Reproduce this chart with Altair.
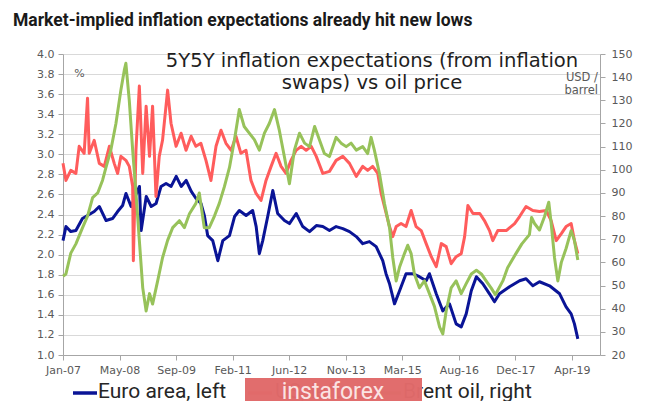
import altair as alt
import pandas as pd

# ---------------- data ----------------
euro_dates = [
    "2007-01-01", "2007-01-27", "2007-03-11", "2007-04-25", "2007-06-22", "2007-08-06",
    "2007-10-04", "2007-11-18", "2008-01-17", "2008-03-14", "2008-04-28", "2008-06-11",
    "2008-07-11", "2008-08-25", "2008-11-07", "2008-11-22", "2009-01-06", "2009-02-19",
    "2009-04-03", "2009-05-17", "2009-06-30", "2009-08-14", "2009-09-28", "2009-11-11",
    "2009-12-25", "2010-02-08", "2010-03-22", "2010-05-05", "2010-06-04", "2010-07-03",
    "2010-08-17", "2010-10-01", "2010-11-14", "2011-01-12", "2011-02-26", "2011-04-09",
    "2011-06-08", "2011-08-05", "2011-09-05", "2011-10-03", "2011-11-02", "2011-12-16",
    "2012-01-30", "2012-03-13", "2012-05-12", "2012-06-25", "2012-08-24", "2012-10-21",
    "2012-12-20", "2013-02-18", "2013-04-16", "2013-06-14", "2013-08-12", "2013-10-10",
    "2013-12-08", "2014-02-06", "2014-04-04", "2014-06-02", "2014-08-01", "2014-09-28",
    "2014-10-27", "2014-11-27", "2015-01-10", "2015-02-24", "2015-04-22", "2015-06-20",
    "2015-08-18", "2015-10-17", "2015-11-15", "2016-01-14", "2016-03-12", "2016-05-10",
    "2016-07-08", "2016-08-22", "2016-10-05", "2016-11-19", "2017-01-03", "2017-03-01",
    "2017-04-29", "2017-06-12", "2017-07-26", "2017-10-23", "2018-01-20", "2018-03-18",
    "2018-05-17", "2018-07-15", "2018-10-12", "2019-01-09", "2019-03-07", "2019-04-21",
    "2019-05-20", "2019-06-19",
]
euro_values = [
    2.14, 2.28, 2.23, 2.24, 2.36, 2.39,
    2.43, 2.48, 2.34, 2.36, 2.43, 2.49,
    2.61, 2.48, 2.68, 2.24, 2.58, 2.48,
    2.51, 2.68, 2.71, 2.68, 2.78, 2.68,
    2.74, 2.63, 2.56, 2.51, 2.39, 2.19,
    2.14, 1.94, 2.14, 2.19, 2.38, 2.44,
    2.39, 2.44, 2.28, 2.01, 2.14, 2.38,
    2.64, 2.41, 2.34, 2.31, 2.41, 2.28,
    2.23, 2.29, 2.28, 2.24, 2.28, 2.26,
    2.23, 2.18, 2.11, 2.13, 2.08, 1.94,
    1.81, 1.71, 1.51, 1.64, 1.81, 1.81,
    1.78, 1.74, 1.81, 1.61, 1.44, 1.51,
    1.31, 1.28, 1.41, 1.64, 1.78, 1.71,
    1.61, 1.53, 1.61, 1.68, 1.74, 1.76,
    1.69, 1.73, 1.69, 1.61, 1.48, 1.41,
    1.31, 1.16,
]

us_dates = [
    "2007-01-01", "2007-01-27", "2007-03-11", "2007-04-25", "2007-05-24", "2007-07-07",
    "2007-08-06", "2007-08-21", "2007-10-04", "2007-11-18", "2008-01-01", "2008-02-15",
    "2008-03-29", "2008-04-28", "2008-05-27", "2008-07-10", "2008-08-09", "2008-09-08",
    "2008-09-14", "2008-10-07", "2008-11-06", "2008-12-06", "2009-01-05", "2009-02-04",
    "2009-03-03", "2009-04-02", "2009-05-01", "2009-05-30", "2009-07-14", "2009-08-13",
    "2009-09-27", "2009-11-10", "2009-12-24", "2010-02-07", "2010-03-21", "2010-05-04",
    "2010-06-18", "2010-08-01", "2010-09-15", "2010-10-29", "2010-12-12", "2011-01-27",
    "2011-03-10", "2011-04-23", "2011-06-07", "2011-07-21", "2011-09-04", "2011-10-18",
    "2011-12-01", "2012-01-15", "2012-02-28", "2012-04-12", "2012-05-26", "2012-07-09",
    "2012-08-23", "2012-10-07", "2012-11-20", "2013-01-04", "2013-02-17", "2013-04-16",
    "2013-06-14", "2013-08-12", "2013-10-10", "2013-12-08", "2014-02-06", "2014-04-04",
    "2014-05-18", "2014-07-01", "2014-08-15", "2014-09-14", "2014-10-13", "2014-11-27",
    "2014-12-26", "2015-01-25", "2015-03-09", "2015-04-22", "2015-06-06", "2015-07-20",
    "2015-09-03", "2015-10-17", "2015-12-01", "2016-01-14", "2016-02-28", "2016-04-11",
    "2016-05-25", "2016-07-08", "2016-08-22", "2016-09-21", "2016-10-20", "2016-12-04",
    "2017-02-02", "2017-03-15", "2017-04-29", "2017-05-28", "2017-07-11", "2017-09-24",
    "2017-12-07", "2018-01-20", "2018-03-18", "2018-05-17", "2018-07-15", "2018-09-13",
    "2018-10-26", "2018-12-10", "2019-01-24", "2019-03-07", "2019-04-21", "2019-05-20",
    "2019-06-19",
]
us_values = [
    2.91, 2.74, 2.84, 2.81, 3.08, 3.01,
    3.56, 3.01, 3.14, 2.91, 2.88, 3.08,
    2.91, 2.81, 2.98, 2.94, 2.88, 2.68,
    1.94, 3.04, 3.68, 2.81, 3.48, 2.98,
    3.48, 2.58, 2.98, 3.14, 3.64, 3.31,
    3.08, 3.21, 3.04, 3.18, 3.08, 3.11,
    2.94, 2.74, 3.08, 3.24, 3.11, 3.04,
    3.18, 3.01, 3.04, 2.74, 2.61, 2.54,
    2.74, 2.88, 3.01, 2.88, 2.81, 2.94,
    3.04, 3.08, 3.04, 3.08, 2.98, 2.81,
    2.83, 2.94, 2.98, 2.91, 2.78, 2.88,
    2.84, 2.88, 2.81, 2.61, 2.48, 2.28,
    2.18, 2.28, 2.31, 2.28, 2.44, 2.28,
    2.24, 2.11, 1.98, 1.88, 2.11, 2.08,
    1.91, 1.98, 2.01, 2.18, 2.49, 2.41,
    2.41, 2.34, 2.24, 2.14, 2.24, 2.24,
    2.31, 2.38, 2.48, 2.44, 2.43, 2.44,
    2.34, 2.14, 2.21, 2.28, 2.31, 2.14,
    2.01,
]

brent_dates = [
    "2007-01-01", "2007-01-27", "2007-03-11", "2007-04-25", "2007-06-23", "2007-08-06",
    "2007-09-20", "2007-11-04", "2007-12-17", "2008-01-16", "2008-02-28", "2008-04-13",
    "2008-05-27", "2008-06-26", "2008-07-10", "2008-08-09", "2008-09-08", "2008-10-07",
    "2008-11-06", "2008-12-06", "2009-01-05", "2009-02-04", "2009-03-03", "2009-04-17",
    "2009-05-30", "2009-07-14", "2009-08-28", "2009-10-26", "2009-12-09", "2010-01-23",
    "2010-03-21", "2010-04-20", "2010-06-03", "2010-07-17", "2010-09-01", "2010-10-14",
    "2010-11-28", "2011-01-12", "2011-02-25", "2011-04-09", "2011-05-22", "2011-07-06",
    "2011-08-20", "2011-10-03", "2011-11-17", "2011-12-30", "2012-02-14", "2012-03-28",
    "2012-05-11", "2012-06-25", "2012-08-08", "2012-09-22", "2012-11-06", "2012-12-20",
    "2013-02-03", "2013-03-17", "2013-04-30", "2013-06-14", "2013-08-12", "2013-09-25",
    "2013-11-09", "2013-12-22", "2014-02-06", "2014-04-04", "2014-05-18", "2014-06-17",
    "2014-07-16", "2014-08-30", "2014-10-13", "2014-11-27", "2014-12-26", "2015-01-25",
    "2015-02-24", "2015-04-08", "2015-05-07", "2015-06-06", "2015-07-05", "2015-08-18",
    "2015-10-02", "2015-11-15", "2015-12-29", "2016-02-13", "2016-03-12", "2016-04-11",
    "2016-05-25", "2016-07-08", "2016-08-22", "2016-10-05", "2016-11-19", "2017-01-03",
    "2017-02-16", "2017-03-30", "2017-05-13", "2017-06-20", "2017-08-25", "2017-10-06",
    "2017-12-21", "2018-02-09", "2018-04-17", "2018-05-06", "2018-06-01", "2018-07-15",
    "2018-08-28", "2018-10-05", "2018-10-26", "2018-11-25", "2018-12-24", "2019-01-24",
    "2019-03-07", "2019-04-21", "2019-05-20", "2019-06-19",
]
brent_values = [
    54, 55, 64, 68, 75, 80,
    88, 90, 95.5, 101, 108.5, 120,
    134.5, 143, 146, 130, 108.5, 90,
    69.5, 49, 39, 46.5, 42, 52,
    62, 69.5, 75, 78, 75, 81,
    85.5, 90, 75, 75, 80, 85.5,
    92.7, 101, 113, 126, 118.7, 115.8,
    113, 108.5, 115.8, 120, 126, 117,
    105.7, 94, 108.5, 115.8, 111.5, 110,
    118.7, 113, 107, 105.7, 114, 111.5,
    110, 111.5, 108.5, 110, 107, 114,
    108.5, 98.4, 85.5, 75, 62, 52,
    58, 63.8, 67.4, 63.8, 55, 49,
    52, 46.5, 41, 32, 29.1, 39,
    49, 52, 46.5, 50.8, 55, 56.6,
    55, 52, 49, 46, 52, 57.7,
    64, 68, 72, 79.4, 76.8, 74,
    79.7, 86, 77, 62, 52, 60,
    66, 73.7, 69.5, 61,
]

series_names = ["Euro area, left", "US, left", "Brent oil, right"]
series_colors = ["#0a1496", "#ff5c5c", "#97c25a"]

tick_dates = [
    (2007, 1, 1), (2008, 5, 15), (2009, 9, 27), (2011, 2, 9), (2012, 6, 23),
    (2013, 11, 5), (2015, 3, 20), (2016, 8, 1), (2017, 12, 14), (2019, 4, 28),
]
x_domain = [(2007, 1, 1), (2020, 1, 1)]
left_ticks = [round(1.0 + 0.2 * i, 1) for i in range(16)]
right_ticks = list(range(20, 151, 10))

main_title = "Market-implied inflation expectations already hit new lows"
inner_title = ["5Y5Y inflation expectations (from inflation", "swaps) vs oil price"]
left_unit = "%"
right_unit = ["USD /", "barrel"]
watermark = "instaforex"

# ---------------- tables ----------------
euro = pd.DataFrame({"date": euro_dates, "value": euro_values, "series": series_names[0]})
us = pd.DataFrame({"date": us_dates, "value": us_values, "series": series_names[1]})
brent = pd.DataFrame({"date": brent_dates, "value": brent_values, "series": series_names[2]})
left_df = pd.concat([euro, us], ignore_index=True)
one = pd.DataFrame({"k": [0]})

def dt(t):
    return alt.DateTime(year=t[0], month=t[1], date=t[2], utc=True)

FONT = "DejaVu Sans"
GREY = "#595959"
AXC = "#a6a6a6"

x_enc = alt.X(
    "date:T",
    scale=alt.Scale(type="utc", domain=[dt(d) for d in x_domain], nice=False),
    axis=alt.Axis(
        values=[dt(d) for d in tick_dates], format="%b-%y", title=None,
        labelFont=FONT, labelFontSize=11, labelColor=GREY, labelPadding=4,
        tickSize=5, tickColor=AXC, domainColor=AXC, grid=False,
        labelOverlap=False, labelFlush=False,
    ),
)

color_enc = alt.Color(
    "series:N",
    scale=alt.Scale(domain=series_names, range=series_colors),
    legend=None,
)

left_lines = alt.Chart(left_df).mark_line(strokeWidth=3, strokeJoin="round").encode(
    x=x_enc,
    y=alt.Y(
        "value:Q",
        scale=alt.Scale(domain=[1.0, 4.0], nice=False, zero=False),
        axis=alt.Axis(
            orient="left", values=left_ticks, format=".1f", title=None,
            labelFont=FONT, labelFontSize=11, labelColor=GREY, labelPadding=4,
            tickSize=5, tickColor=AXC, domainColor=AXC,
            grid=True, gridColor="#d9d9d9", gridWidth=1,
        ),
    ),
    color=color_enc,
)

right_lines = alt.Chart(brent).mark_line(strokeWidth=3, strokeJoin="round").encode(
    x=x_enc,
    y=alt.Y(
        "value:Q",
        scale=alt.Scale(domain=[20, 150], nice=False, zero=False),
        axis=alt.Axis(
            orient="right", values=right_ticks, format="d", title=None,
            labelFont=FONT, labelFontSize=11, labelColor=GREY, labelPadding=6,
            tickSize=5, tickColor=AXC, domainColor=AXC, grid=False,
        ),
    ),
    color=color_enc,
)

title_mark = alt.Chart(one).mark_text(
    text=main_title, align="left", baseline="alphabetic",
    font="Roboto", fontSize=17.5, fontWeight="bold", color="#1a1a1a",
).encode(x=alt.value(-50), y=alt.value(-28))

inner_mark = alt.Chart(one).mark_text(
    text=inner_title, align="center", baseline="alphabetic", lineHeight=22,
    font="DejaVu Sans", fontSize=19.6, color="#1f1f1f",
).encode(x=alt.value(309), y=alt.value(13))

pct_mark = alt.Chart(one).mark_text(
    text=left_unit, align="center", baseline="middle",
    font=FONT, fontSize=11, color=GREY,
).encode(x=alt.value(16.5), y=alt.value(19.5))

usd_mark = alt.Chart(one).mark_text(
    text=right_unit, align="right", baseline="middle", lineHeight=13.5,
    font=FONT, fontSize=11.5, color=GREY,
).encode(x=alt.value(535), y=alt.value(23.5))

# ---------------- legend (drawn as marks so the watermark can cover it) ----------------
legend_symbol_x = [10, 185, 314]
legend_text_x = [35, 212, 340]
legend_layers = []
for name, col, sx, tx in zip(series_names, series_colors, legend_symbol_x, legend_text_x):
    legend_layers.append(
        alt.Chart(one).mark_rule(color=col, strokeWidth=3.5).encode(
            x=alt.value(sx), x2=alt.value(sx + 24), y=alt.value(339)
        )
    )
    legend_layers.append(
        alt.Chart(one).mark_text(
            text=name, align="left", baseline="middle",
            font="Roboto", fontSize=21, color="#262626",
        ).encode(x=alt.value(tx), y=alt.value(337.5))
    )

wm_rect = alt.Chart(one).mark_rect(color="#e06a6a", opacity=0.98).encode(
    x=alt.value(182), x2=alt.value(359), y=alt.value(324), y2=alt.value(360)
)
wm_text = alt.Chart(one).mark_text(
    text=watermark, align="center", baseline="middle",
    font="Roboto", fontSize=23, color="#fbe3e3",
).encode(x=alt.value(270), y=alt.value(338))

chart = (
    alt.layer(left_lines, right_lines, title_mark, inner_mark, pct_mark, usd_mark,
              *legend_layers, wm_rect, wm_text)
    .resolve_scale(y="independent")
    .properties(
        width=537, height=301,
        padding={"left": 55, "top": 46, "right": 57, "bottom": 46},
        autosize=alt.AutoSizeParams(type="none"),
        background="white",
    )
    .configure_view(strokeWidth=0)
)

chart.save("out.html", embed_options={"renderer": "svg", "actions": False})
